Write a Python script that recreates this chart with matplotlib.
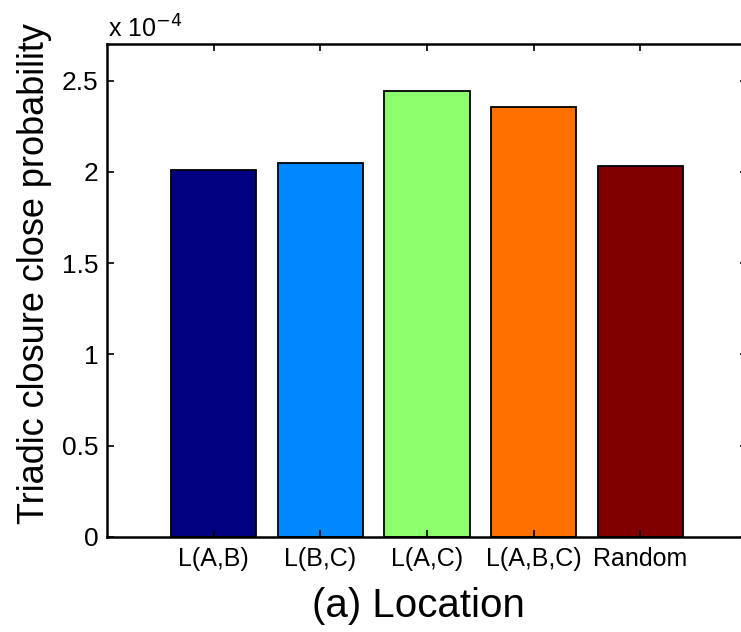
import matplotlib
matplotlib.use('Agg')
import matplotlib.pyplot as plt

# data (values in units of 1e-4)
categories = ['L(A,B)', 'L(B,C)', 'L(A,C)', 'L(A,B,C)', 'Random']
probability = [2.01, 2.05, 2.44, 2.355, 2.03]
bar_colors = ['#000080', '#0088ff', '#8cff6c', '#ff7000', '#800000']

plt.rcParams['font.family'] = ['Liberation Sans', 'DejaVu Sans']

W, H = 741, 632
fig = plt.figure(figsize=(W / 100, H / 100), dpi=100)
# axes runs past the right edge of the picture, like the cropped original
ax = fig.add_axes([107 / W, 1 - 537 / H, 640 / W, 493 / H])

x = list(range(1, len(categories) + 1))
ax.bar(x, probability, width=0.8, color=bar_colors, edgecolor='black', linewidth=1.3)

ax.set_xlim(0, 6)
ax.set_ylim(0, 2.7)
ax.set_xticks(x)
ax.set_xticklabels(categories, fontsize=18)
ax.set_yticks([0, 0.5, 1, 1.5, 2, 2.5])
ax.set_yticklabels(['0', '0.5', '1', '1.5', '2', '2.5'], fontsize=19)
ax.tick_params(direction='in', top=True, right=True, length=5, width=1.2)
ax.tick_params(axis='x', pad=7)
ax.tick_params(axis='y', pad=6)
for s in ax.spines.values():
    s.set_linewidth(1.8)

# exponent marker
fig.text(108 / W, 1 - 38 / H, r'x 10$^{-4}$', fontsize=18, ha='left', va='baseline')

# axis labels
fig.text(35 / W, 1 - 273 / H, 'Triadic closure close probability', fontsize=26,
         rotation=90, ha='center', va='center')
fig.text(418 / W, 1 - 606 / H, '(a) Location', fontsize=29, ha='center', va='center')

fig.savefig('out.png', dpi=100)
